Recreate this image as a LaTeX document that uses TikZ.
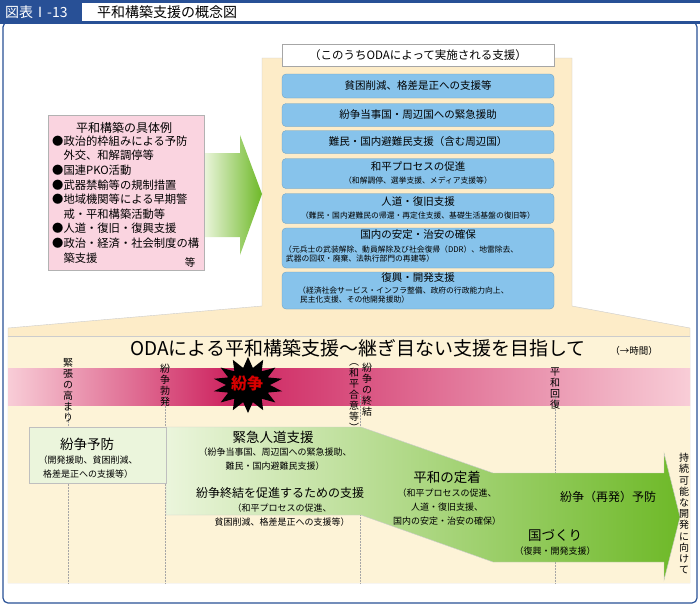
\documentclass[tikz,border=0pt]{standalone}
\usepackage{fontspec}
\setmainfont{Noto Sans CJK JP}
\usetikzlibrary{shapes.geometric}
\definecolor{frameblue}{RGB}{40,80,150}
\definecolor{beige}{RGB}{253,236,200}
\definecolor{beige2}{RGB}{253,243,215}
\definecolor{boxblue}{RGB}{135,195,235}
\definecolor{pinkbox}{RGB}{250,212,224}
\definecolor{darkpink}{RGB}{205,35,95}
\definecolor{lightpink}{RGB}{248,205,215}
\definecolor{gl}{RGB}{235,245,220}
\definecolor{gd}{RGB}{110,185,40}
\newcommand{\fs}[2]{\fontsize{#1}{#2}\selectfont}
\tikzset{
 bluebox/.style={fill=boxblue,rounded corners=4pt,draw=boxblue!80!black,line width=0.3pt},
 bt/.style={font=\fs{10.5}{12},align=center,inner sep=0},
 st/.style={font=\fs{7.8}{9.5},align=center,inner sep=0},
 vt/.style={font=\fs{10}{11},align=center,inner sep=0,anchor=north},
 dl/.style={densely dotted,gray!70,line width=0.5pt},
 gt/.style={font=\fs{13.5}{14},inner sep=0},
 gs/.style={font=\fs{9}{14},align=center,inner sep=0}
}
\begin{document}
\begin{tikzpicture}[x=1pt,y=-1pt]
\useasboundingbox (0,0) rectangle (700,606);
\fill[white] (0,0) rectangle (700,606);
\draw[frameblue,line width=1.2pt,rounded corners=5pt] (3,22) rectangle (697,603);
\fill[frameblue] (0,0) rectangle (700,3);
\fill[frameblue] (0,21) rectangle (700,24);
\fill[frameblue] (0,0) rectangle (82,24);
\node[white,font=\fs{14}{14},anchor=west,inner sep=0] (tag) at (5,12.5) {図表Ⅰ-13};
\node[font=\fs{14}{14},anchor=west,inner sep=0] (ttl) at (97,12.5) {平和構築支援の概念図};
\fill[beige,draw=gray!40] (262,58) -- (572,58) -- (572,306) -- (690,328) -- (690,583) -- (8,583) -- (8,328) -- (262,306) -- cycle;
\fill[beige2] (8,336) rectangle (690,583);
\draw[gray!40] (8,336) -- (690,336);
\node[draw=gray!70,fill=white,minimum width=272,minimum height=22,font=\fs{11.5}{12},inner sep=0] (hdr) at (418,55) {（このうちODAによって実施される支援）};
\node[bluebox,minimum width=272,minimum height=24] (b1) at (418,86) {};
\node[bt] at (b1) {貧困削減、格差是正への支援等};
\node[bluebox,minimum width=272,minimum height=23] (b2) at (418,115) {};
\node[bt] at (b2) {紛争当事国・周辺国への緊急援助};
\node[bluebox,minimum width=272,minimum height=23] (b3) at (418,142) {};
\node[bt] at (b3) {難民・国内避難民支援（含む周辺国）};
\node[bluebox,minimum width=272,minimum height=30] (b4) at (418,173.5) {};
\node[bt] at (418,167) {和平プロセスの促進};
\node[st] at (418,181) {（和解調停、選挙支援、メディア支援等）};
\node[bluebox,minimum width=272,minimum height=30] (b5) at (418,208.5) {};
\node[bt] at (418,202) {人道・復旧支援};
\node[st] at (418,216) {（難民・国内避難民の帰還・再定住支援、基礎生活基盤の復旧等）};
\node[bluebox,minimum width=272,minimum height=40] (b6) at (418,248) {};
\node[bt] at (418,235) {国内の安定・治安の確保};
\node[st,align=left,anchor=west] at (284,254) {（元兵士の武装解除、動員解除及び社会復帰（DDR）、地雷除去、\\\ 武器の回収・廃棄、法執行部門の再建等）};
\node[bluebox,minimum width=272,minimum height=37] (b7) at (418,290.5) {};
\node[bt] at (418,278) {復興・開発支援};
\node[st,align=left,anchor=west] at (298,295) {（経済社会サービス・インフラ整備、政府の行政能力向上、\\\ 民主化支援、その他開発援助）};
\shade[left color=gl,right color=gd] (204,153) -- (240,153) -- (240,135) -- (262,194) -- (240,255) -- (240,237) -- (204,237) -- cycle;
\node[fill=pinkbox,draw=gray!60,minimum width=156,minimum height=155,anchor=north west,inner sep=0] (pk) at (48,115) {};
\node[font=\fs{12}{12},inner sep=0] at (124,128) {平和構築の具体例};
\node[font=\fs{11.3}{14.6},align=left,anchor=north west,inner sep=0] (pkt) at (52,135.5) {●政治的枠組みによる予防\\\hspace{1em}外交、和解調停等\\●国連PKO活動\\●武器禁輸等の規制措置\\●地域機関等による早期警\\\hspace{1em}戒・平和構築活動等\\●人道・復旧・復興支援\\●政治・経済・社会制度の構\\\hspace{1em}築支援};
\node[font=\fs{10.5}{10},inner sep=0] at (190,262) {等};
\node[font=\fs{19}{19},inner sep=0] (bt) at (358,348) {ODAによる平和構築支援〜継ぎ目ない支援を目指して};
\node[font=\fs{9.5}{9},inner sep=0] at (634,351) {（→時間）};
\shade[left color=lightpink,right color=darkpink] (8,368) rectangle (230,405);
\shade[left color=darkpink,right color=lightpink] (230,368) rectangle (690,405);
\foreach \x in {68,165,360,555} \draw[dl] (\x,395) -- (\x,583);
\node[star,star points=14,star point ratio=1.6,fill=black,minimum size=70,inner sep=0,yscale=0.8] (st) at (248,385) {};
\node[text=red!85!black,font=\fs{16}{16}\bfseries,inner sep=0] at (247,383) {紛争};
\node[vt] (v1) at (68,358) {緊\\張\\の\\高\\ま\\り};
\node[vt] (v2) at (165,364) {紛\\争\\勃\\発};
\node[vt] (v3) at (367,363) {紛\\争\\の\\終\\結};
\node[vt] (v3b) at (354,363) {︵\\和\\平\\合\\意\\等\\︶};
\node[vt] (v4) at (555,368) {平\\和\\回\\復};
\shade[left color=gl,right color=gd,draw=gray!40] (166,427) -- (361,427) -- (493,473) -- (664,473) -- (664,453) -- (680,517) -- (664,580) -- (664,562) -- (493,562) -- (361,515) -- (166,515) -- cycle;
\fill[gl,draw=gray!50] (29,427) rectangle (166,483);
\node[gt] at (87,444) {紛争予防};
\node[gs] at (88,467) {（開発援助、貧困削減、\\格差是正への支援等）};
\node[gt] at (273,437) {緊急人道支援};
\node[gs] at (275,459) {（紛争当事国、周辺国への緊急援助、\\難民・国内避難民支援）};
\node[font=\fs{12}{12},inner sep=0] at (280,493) {紛争終結を促進するための支援};
\node[gs] at (282,515) {（和平プロセスの促進、\\貧困削減、格差是正への支援等）};
\node[gt] at (447,477) {平和の定着};
\node[gs] at (447,507) {（和平プロセスの促進、\\人道・復旧支援、\\国内の安定・治安の確保）};
\node[font=\fs{12}{12},inner sep=0] at (608,497) {紛争（再発）予防};
\node[gt] at (555,535) {国づくり};
\node[gs] at (555,551) {（復興・開発支援）};
\node[vt,font=\fs{10}{11.2}] (v5) at (684,453) {持\\続\\可\\能\\な\\開\\発\\に\\向\\け\\て};
\end{tikzpicture}
\end{document}
